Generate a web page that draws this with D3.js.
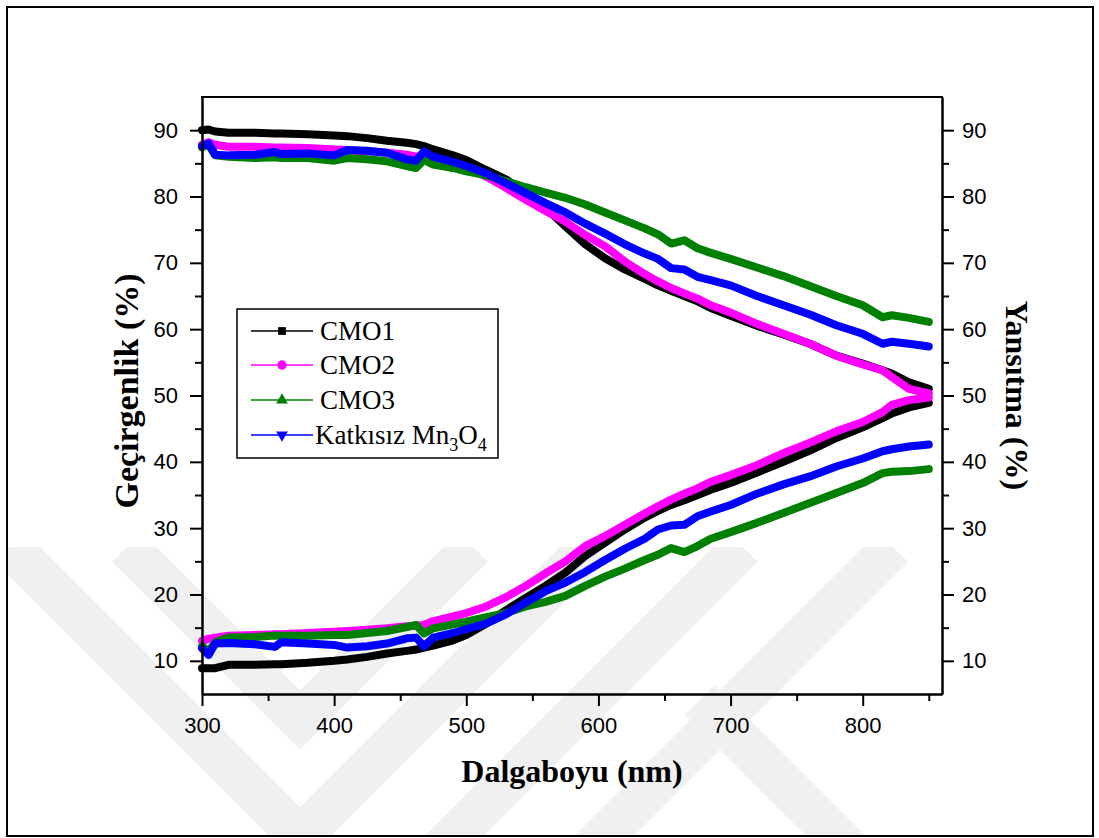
<!DOCTYPE html>
<html>
<head>
<meta charset="utf-8">
<script src="https://cdn.jsdelivr.net/npm/d3@7"></script>
<style>
  body { margin: 0; background: #fff; }
  svg { display: block; }
</style>
</head>
<body>
<svg id="chart" width="1099" height="838"></svg>
<script>
// Data (wavelength in nm, values in %)
const wavelength = [300, 305, 310, 320, 340, 355, 360, 380, 400, 410, 425, 440, 455, 462, 468, 475, 490, 500, 515, 530, 545, 560, 575, 590, 605, 620, 635, 645, 655, 665, 675, 685, 700, 720, 740, 760, 780, 800, 815, 822, 835, 850];

// Transmittance (Geçirgenlik)
const cmo1T = [90.0, 90.1, 89.8, 89.6, 89.6, 89.5, 89.5, 89.4, 89.2, 89.1, 88.8, 88.4, 88.1, 87.9, 87.6, 87.1, 86.2, 85.5, 84.0, 82.6, 80.5, 78.3, 75.5, 72.8, 70.7, 69.0, 67.6, 66.6, 65.8, 65.0, 64.2, 63.2, 62.0, 60.5, 59.2, 57.8, 56.0, 54.8, 53.8, 53.3, 52.0, 51.0];
const cmo2T = [87.8, 88.2, 87.8, 87.5, 87.5, 87.4, 87.4, 87.3, 87.1, 87.0, 86.8, 86.6, 86.3, 86.0, 86.2, 85.8, 85.0, 84.5, 83.0, 81.3, 79.5, 77.8, 76.2, 74.2, 72.5, 70.2, 68.3, 67.2, 66.2, 65.4, 64.6, 63.6, 62.5, 60.8, 59.3, 57.8, 56.0, 54.7, 53.8, 52.8, 51.0, 50.3];
const cmo3T = [87.4, 87.8, 86.2, 86.0, 85.8, 85.9, 85.8, 85.8, 85.4, 85.8, 85.6, 85.3, 84.6, 84.3, 85.5, 84.8, 84.3, 83.8, 83.2, 82.3, 81.4, 80.6, 79.8, 78.8, 77.6, 76.4, 75.2, 74.3, 72.9, 73.4, 72.2, 71.5, 70.6, 69.3, 68.0, 66.5, 65.0, 63.6, 61.8, 62.1, 61.7, 61.1];
const mn3o4T = [87.6, 88.0, 86.3, 86.2, 86.3, 86.7, 86.4, 86.5, 86.2, 87.0, 86.9, 86.6, 85.6, 85.4, 86.8, 86.0, 85.2, 84.6, 83.5, 82.0, 80.5, 79.0, 77.6, 75.9, 74.4, 72.8, 71.4, 70.6, 69.2, 69.0, 67.9, 67.4, 66.6, 65.0, 63.6, 62.2, 60.6, 59.3, 57.8, 58.1, 57.8, 57.4];

// Reflectance (Yansıtma)
const cmo1R = [8.9, 8.9, 8.9, 9.4, 9.4, 9.5, 9.5, 9.7, 10.0, 10.2, 10.6, 11.1, 11.5, 11.7, 12.0, 12.3, 13.1, 13.9, 15.6, 17.6, 19.5, 21.3, 23.3, 25.8, 27.8, 29.8, 31.6, 32.6, 33.5, 34.2, 35.0, 35.8, 36.8, 38.4, 40.0, 41.7, 43.6, 45.2, 46.6, 47.3, 48.2, 48.9];
const cmo2R = [13.0, 13.3, 13.5, 13.8, 13.9, 14.0, 14.0, 14.2, 14.4, 14.5, 14.7, 14.9, 15.2, 15.3, 15.4, 16.0, 16.7, 17.2, 18.2, 19.6, 21.3, 23.2, 25.0, 27.3, 28.8, 30.5, 32.2, 33.3, 34.3, 35.2, 36.0, 37.0, 38.0, 39.5, 41.3, 42.9, 44.6, 46.0, 47.5, 48.6, 49.3, 49.7];
const cmo3R = [12.2, 11.4, 12.8, 13.5, 13.6, 13.8, 13.8, 13.8, 13.9, 13.9, 14.2, 14.5, 15.1, 15.4, 14.1, 14.9, 15.5, 15.9, 16.6, 17.2, 18.2, 18.9, 19.8, 21.3, 22.7, 23.9, 25.2, 26.0, 27.0, 26.4, 27.3, 28.4, 29.4, 30.8, 32.3, 33.8, 35.3, 36.8, 38.3, 38.5, 38.6, 38.9];
const mn3o4R = [11.9, 10.9, 12.6, 12.7, 12.5, 12.1, 12.8, 12.6, 12.4, 12.0, 12.2, 12.6, 13.4, 13.5, 12.2, 13.5, 14.2, 14.8, 15.6, 17.0, 18.8, 20.5, 21.8, 23.4, 25.2, 26.9, 28.4, 29.8, 30.4, 30.5, 31.8, 32.5, 33.5, 35.2, 36.6, 37.8, 39.3, 40.5, 41.6, 41.9, 42.3, 42.6];

const xTicks = [300, 400, 500, 600, 700, 800];
const xMinorTicks = [350, 450, 550, 650, 750, 850];
const yTicks = [10, 20, 30, 40, 50, 60, 70, 80, 90];
const yMinorTicks = [15, 25, 35, 45, 55, 65, 75, 85];

const series = [
  { name: 'CMO1', color: '#000000', T: cmo1T, R: cmo1R, symbol: d3.symbolSquare },
  { name: 'CMO2', color: '#ff00ff', T: cmo2T, R: cmo2R, symbol: d3.symbolCircle },
  { name: 'CMO3', color: '#008000', T: cmo3T, R: cmo3R, symbol: d3.symbolTriangle },
  { name: 'Mn3O4', color: '#0000ff', T: mn3o4T, R: mn3o4R, symbol: d3.symbolTriangle, flip: true }
];

const svg = d3.select('#chart');
const plot = { left: 202, right: 942, top: 97, bottom: 694 };

// background watermark stripes
svg.append('defs').append('clipPath').attr('id', 'wmclip')
  .append('rect').attr('x', 8).attr('y', 547).attr('width', 1085).attr('height', 289);
const wm = svg.append('g').attr('clip-path', 'url(#wmclip)');
const stripes = [
  [[10, 547], [300, 837], [590, 547]],
  [[127, 547], [300, 720], [473, 547]],
  [[440, 850], [743, 547]],
  [[590, 850], [893, 547]],
  [[700, 700], [850, 850]]
];
stripes.forEach(s => {
  wm.append('path')
    .attr('d', d3.line()(s))
    .attr('fill', 'none')
    .attr('stroke', '#f0f0f0')
    .attr('stroke-width', 42)
    .attr('stroke-linejoin', 'miter');
});

// outer border
svg.append('rect')
  .attr('x', 7).attr('y', 7).attr('width', 1086).attr('height', 829)
  .attr('fill', 'none').attr('stroke', '#000').attr('stroke-width', 2);

const x = d3.scaleLinear().domain([300, 860]).range([plot.left, plot.right]);
const y = d3.scaleLinear().domain([5, 95]).range([plot.bottom, plot.top]);

// curves
const line = d3.line()
  .x((d, i) => x(wavelength[i]))
  .y(d => y(d));

const curves = svg.append('g');
series.forEach(s => {
  [s.T, s.R].forEach(vals => {
    curves.append('path')
      .datum(vals)
      .attr('d', line)
      .attr('fill', 'none')
      .attr('stroke', s.color)
      .attr('stroke-width', 8)
      .attr('stroke-linejoin', 'round')
      .attr('stroke-linecap', 'round');
  });
});

// axes
function styleAxis(g) {
  g.select('.domain').attr('stroke', '#000').attr('stroke-width', 2);
  g.selectAll('.tick line').attr('stroke', '#000').attr('stroke-width', 2);
  g.selectAll('.tick text')
    .attr('fill', '#000')
    .style('font-family', '"Liberation Sans", Arial, sans-serif')
    .style('font-size', '22px');
}

svg.append('g')
  .attr('transform', `translate(0,${plot.bottom})`)
  .call(d3.axisBottom(x).tickValues(xTicks).tickSize(12).tickPadding(11).tickSizeOuter(0).tickFormat(d3.format('d')))
  .call(styleAxis);
svg.append('g')
  .attr('transform', `translate(0,${plot.bottom})`)
  .call(d3.axisBottom(x).tickValues(xMinorTicks).tickSize(7).tickFormat('').tickSizeOuter(0))
  .call(styleAxis);

svg.append('g')
  .attr('transform', `translate(${plot.left},0)`)
  .call(d3.axisLeft(y).tickValues(yTicks).tickSize(12).tickPadding(12).tickSizeOuter(0))
  .call(styleAxis);
svg.append('g')
  .attr('transform', `translate(${plot.left},0)`)
  .call(d3.axisLeft(y).tickValues(yMinorTicks).tickSize(7).tickFormat('').tickSizeOuter(0))
  .call(styleAxis);

svg.append('g')
  .attr('transform', `translate(${plot.right},0)`)
  .call(d3.axisRight(y).tickValues(yTicks).tickSize(12).tickPadding(8).tickSizeOuter(0))
  .call(styleAxis);
svg.append('g')
  .attr('transform', `translate(${plot.right},0)`)
  .call(d3.axisRight(y).tickValues(yMinorTicks).tickSize(7).tickFormat('').tickSizeOuter(0))
  .call(styleAxis);

// top frame line
svg.append('line')
  .attr('x1', plot.left - 1).attr('x2', plot.right + 1)
  .attr('y1', plot.top).attr('y2', plot.top)
  .attr('stroke', '#000').attr('stroke-width', 2);

// axis titles
const serif = '"Liberation Serif", "Times New Roman", serif';
svg.append('text')
  .attr('x', (plot.left + plot.right) / 2).attr('y', 782)
  .attr('text-anchor', 'middle')
  .style('font-family', serif).style('font-weight', 'bold').style('font-size', '32px')
  .text('Dalgaboyu (nm)');
svg.append('text')
  .attr('transform', `translate(138,391) rotate(-90)`)
  .attr('text-anchor', 'middle')
  .style('font-family', serif).style('font-weight', 'bold').style('font-size', '34px')
  .text('Geçirgenlik (%)');
svg.append('text')
  .attr('transform', `translate(1006,${(plot.top + plot.bottom) / 2}) rotate(90)`)
  .attr('text-anchor', 'middle')
  .style('font-family', serif).style('font-weight', 'bold').style('font-size', '32px')
  .text('Yansıtma (%)');

// legend
const legend = svg.append('g');
legend.append('rect')
  .attr('x', 237).attr('y', 309).attr('width', 261).attr('height', 149)
  .attr('fill', '#fff').attr('stroke', '#000').attr('stroke-width', 1.5);
const rowY = [331, 365, 400, 435];
series.forEach((s, i) => {
  const g = legend.append('g').attr('transform', `translate(0,${rowY[i]})`);
  g.append('line').attr('x1', 251).attr('x2', 313).attr('y1', 0).attr('y2', 0)
    .attr('stroke', s.color).attr('stroke-width', 1.5);
  g.append('path')
    .attr('d', d3.symbol().type(s.symbol).size(s.symbol === d3.symbolCircle ? 70 : 60)())
    .attr('transform', `translate(282,0)${s.flip ? ' rotate(180)' : ''}`)
    .attr('fill', s.color);
  const t = g.append('text')
    .attr('x', i === 3 ? 315 : 320).attr('y', 9)
    .style('font-family', serif).style('font-size', '27px').attr('fill', '#000');
  if (i === 3) {
    t.append('tspan').text('Katkısız Mn');
    t.append('tspan').attr('dy', 7).style('font-size', '18px').text('3');
    t.append('tspan').attr('dy', -7).text('O');
    t.append('tspan').attr('dy', 7).style('font-size', '18px').text('4');
  } else {
    t.text(s.name);
  }
});
</script>
</body>
</html>
